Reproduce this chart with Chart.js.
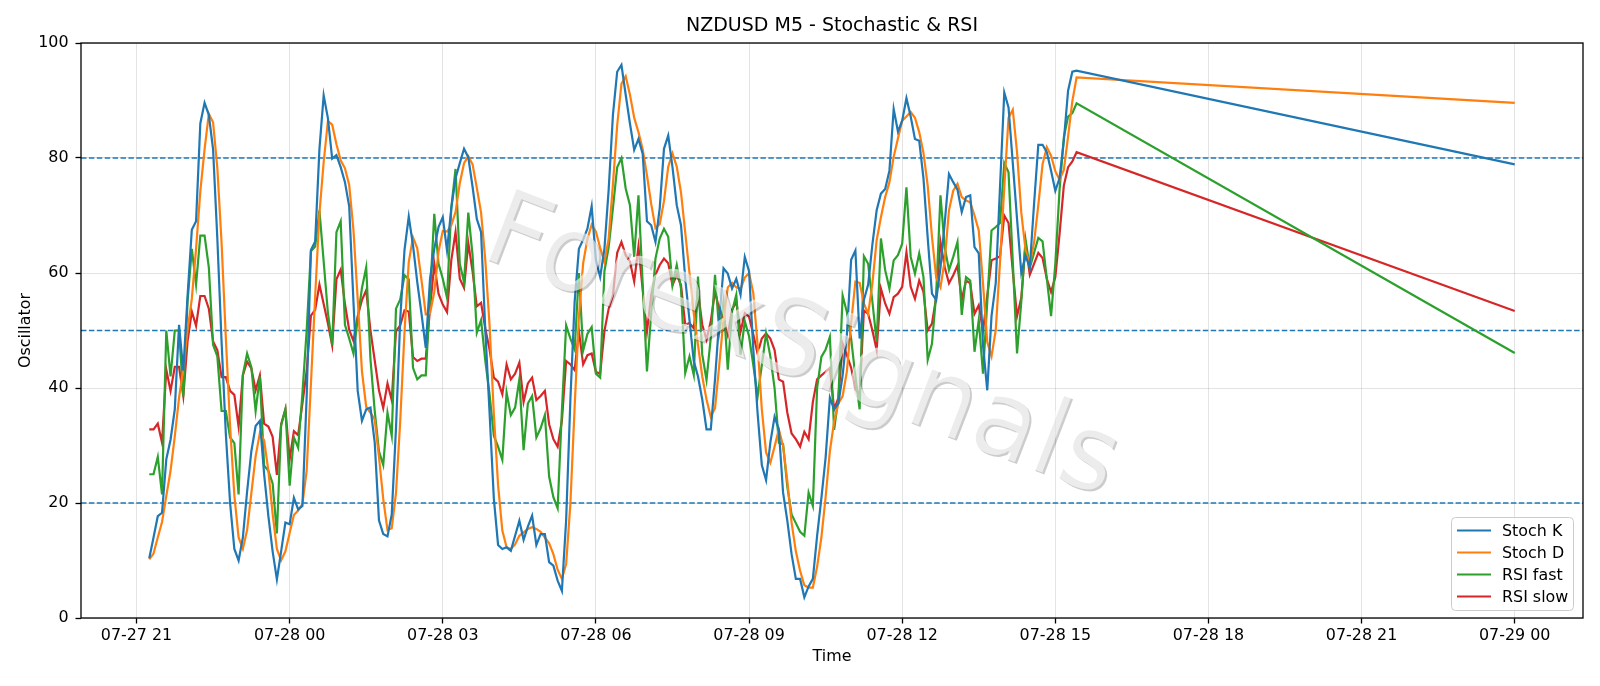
<!DOCTYPE html>
<html>
<head>
<meta charset="utf-8">
<title>NZDUSD M5 - Stochastic & RSI</title>
<script src="https://cdn.jsdelivr.net/npm/chart.js@4.4.1/dist/chart.umd.min.js"></script>
<style>
  html, body { margin: 0; padding: 0; background: #fff; }
  #wrap { width: 1600px; height: 686px; }
</style>
</head>
<body>
<div id="wrap"><canvas id="myChart" width="1600" height="686"></canvas></div>
<script>
// time axis: hours counted from 07-27 00:00
const firstBarHour = 21 + 15 / 60;   // 07-27 21:15
const barStepHours = 5 / 60;         // M5 bars
const barCount = 219;                // last bar 07-28 15:25
const finalHour = 48;                // 07-29 00:00
const tickHours = [21, 24, 27, 30, 33, 36, 39, 42, 45, 48];
const yTicks = [0, 20, 40, 60, 80, 100];
const levels = [20, 50, 80];

// one row = one hour of M5 bars, last row ends with the 07-29 00:00 point
const stochK = [
  10.4, 14, 17.7, 18.3, 27.6, 31, 36.3, 51, 43, 56, 67.5, 69,
  86, 89.6, 87.5, 81.5, 66, 48, 32, 20, 12, 10, 14, 22,
  29, 33.4, 34.3, 25, 17.7, 11.6, 6.7, 11.6, 16.6, 16.3, 20.9, 18.9,
  19.5, 38.5, 64, 65.5, 81.5, 90.9, 86.9, 79.9, 80.5, 78.4, 75.8, 71.6,
  55, 39.5, 34.3, 36.3, 36.6, 30.5, 17, 14.6, 14.2, 18, 33, 52,
  64, 69.8, 64.8, 58.4, 52.9, 47, 59, 64.2, 68, 69.7, 63.9, 71.3,
  76.5, 79.1, 81.6, 80.1, 75, 69.4, 67.1, 50, 35.7, 20.8, 12.7, 12,
  12.3, 11.7, 14.3, 16.9, 13.6, 15.9, 17.8, 12.7, 14.6, 14.6, 9.7, 9.1,
  6.5, 4.7, 17, 38, 55, 64.2, 65.8, 67.7, 71.6, 62.2, 59.3, 64.2,
  74.5, 87.5, 95, 96.2, 91, 86, 81.4, 83.3, 80.7, 69, 68.3, 65.4,
  71.3, 81.6, 83.9, 78.4, 71.8, 68.3, 59, 51.8, 44.7, 42, 38, 32.8,
  32.8, 41.5, 52, 60.8, 59.9, 57.3, 59, 56.2, 62.8, 60.3, 46.7, 35.7,
  26.6, 24, 30.5, 35, 32.8, 21.8, 16.9, 11.1, 6.8, 6.8, 3.6, 5.5,
  6.8, 14.3, 20.8, 27.9, 38.3, 36.3, 37.3, 42.2, 49.3, 62.3, 63.9, 48.6,
  55.3, 58, 65, 70.9, 73.8, 74.6, 77.8, 88.5, 84.6, 86.5, 90.4, 87.2,
  83.3, 83, 76.5, 66.1, 56.4, 55.3, 60.9, 68.7, 77.2, 75.8, 74.5, 70.6,
  73.2, 73.5, 64.5, 63.4, 47.4, 39.6, 52.5, 58.3, 75, 91.4, 88.8, 79.1,
  69.4, 60, 63, 61, 72, 82.3, 82.3, 81, 77.8, 74.3, 76.5, 83,
  91.7, 95, 95.2, 78.9
];
const stochD = [
  10.2, 11.2, 14, 16.7, 21.2, 25.6, 31.6, 38.3, 43.4, 50, 55.5, 64.2,
  74.2, 81.5, 87.7, 86.2, 78.3, 65.2, 48.7, 33.3, 21.3, 14, 12, 15.3,
  21.7, 28.1, 32.2, 30.9, 25.6, 18.1, 12, 10, 11.6, 14.8, 17.9, 18.7,
  19.8, 25.6, 40.7, 56, 70.3, 79.3, 86.4, 85.8, 82.4, 79.6, 78.2, 75.3,
  67.5, 55.4, 42.9, 36.7, 35.7, 34.5, 28, 20.7, 15.3, 15.6, 21.7, 34.3,
  49.7, 61.9, 66.2, 64.3, 58.7, 52.8, 53, 56.7, 63.7, 67.3, 67.2, 68.3,
  70.6, 75.6, 79.1, 80.3, 78.9, 74.8, 70.5, 62.2, 50.9, 35.5, 23.1, 15.2,
  12.3, 12, 12.8, 14.3, 14.9, 15.5, 15.8, 15.5, 15, 14, 13, 11.1,
  8.4, 6.8, 9.4, 19.9, 36.7, 52.4, 61.7, 65.9, 68.4, 67.2, 64.4, 61.9,
  66, 75.4, 85.7, 92.9, 94.2, 91, 87, 84.5, 81.5, 77, 72, 67.8,
  68.5, 72.5, 78.5, 80.8, 78.5, 74, 67, 60, 53, 47.5, 42, 38,
  35, 36.5, 44, 52, 57.5, 58.3, 57.5, 57.2, 59.2, 60, 56.5, 47.6,
  36.3, 28.8, 27, 29.8, 32.8, 29.9, 23.8, 16.6, 11.6, 8.2, 5.7, 5.3,
  5.3, 8.9, 14, 21, 29, 34.2, 37.3, 38.6, 42.9, 51.3, 58.5, 58.3,
  54.7, 52.9, 58.2, 65.7, 69.7, 73.2, 75.8, 80.2, 83.4, 86.5, 87.2, 88,
  87, 84.5, 80.9, 75.2, 66.3, 59.2, 57.5, 62.2, 70.9, 74.3, 75.5, 73.2,
  72.6, 72.3, 70, 67.4, 58.2, 48, 45.5, 50.1, 61.9, 74.9, 87, 88.4,
  81, 70.5, 64, 61.5, 65.3, 71.8, 78.9, 81.9, 80.4, 77.7, 76.2, 77.9,
  83.7, 89.9, 94, 89.6
];
const rsiFast = [
  25, 25, 28, 21.5, 50, 42, 50, 50, 38.5, 55, 64.2, 58,
  66.5, 66.5, 61, 47.5, 45.5, 36, 36, 31.4, 30.4, 21.5, 42.3, 46,
  43.6, 36, 42, 26.5, 25.6, 23.4, 14.7, 33.5, 36.3, 23, 31.4, 29.6,
  39, 50, 63.8, 64.6, 70.9, 62, 53, 47.5, 67.1, 69, 51, 48.6,
  46, 52, 57.4, 61, 45, 36, 29, 26.6, 35.7, 31.7, 53.8, 55.4,
  59.6, 58.9, 43.5, 41.5, 42.2, 42.2, 56, 70.3, 61.6, 59, 55.7, 71.3,
  78.1, 61.6, 58.4, 70.5, 63.1, 49.6, 51.8, 44.7, 38.9, 31.7, 29.8, 27.5,
  39.2, 35.3, 36.6, 41.5, 29.2, 37.3, 38.6, 31.4, 33, 35.3, 24.6, 21,
  19.1, 36, 50.9, 48.6, 46.7, 60, 46.5, 49.4, 50.6, 42.5, 41.8, 60.3,
  64.5, 71.3, 78.4, 80, 74.7, 71.8, 62.8, 73.5, 58, 42.9, 53, 62.5,
  66, 67.7, 66.3, 57.9, 61.4, 57.3, 42.6, 45.5, 42.3, 59.4, 45.8, 41.4,
  48.7, 59.7, 49.8, 55, 43.2, 53.3, 56.2, 45.8, 51.6, 49, 44, 38.5,
  44, 49.5, 45.5, 40, 30.5, 30.2, 22.8, 18, 16.5, 15, 14.3, 21.8,
  19.5, 40, 45.4, 46.7, 48.9, 32.7, 38.3, 56.1, 53.2, 48.6, 42, 36.3,
  62.9, 61.6, 55, 48, 66, 60.5, 57.3, 62.2, 63.1, 65.1, 74.9, 62.8,
  59.9, 63.4, 59.3, 44.9, 47.7, 56.4, 73.5, 64.5, 60.5, 62.8, 65.4, 52.7,
  59.3, 58.7, 46.3, 51.8, 42.5, 55, 67.4, 68, 68.7, 79.1, 77.5, 62,
  46, 55, 65.8, 60.9, 63.5, 66.1, 65.5, 59, 52.5, 61.6, 74.5, 83.6,
  87.2, 87.8, 89.5, 46.1
];
const rsiSlow = [
  32.8, 32.8, 33.8, 30.5, 43.2, 39.5, 43.7, 43.7, 38.6, 48.1, 53.3, 50.8,
  56, 56, 53.8, 48.1, 46.6, 41.9, 41.9, 39.5, 38.8, 33.3, 42.2, 44.6,
  43.4, 39.6, 42.2, 33.8, 33.3, 31.5, 24.9, 33.7, 36.3, 27.6, 32.5, 31.8,
  37.3, 43, 52.6, 53.6, 58, 54.6, 51.2, 47.4, 58.9, 60.6, 54.6, 50.1,
  48.2, 52.5, 55.3, 57, 50, 44.8, 39.6, 36.5, 40.8, 37.9, 49.9, 50.9,
  53.5, 53.3, 45.4, 44.7, 45.1, 45.1, 53.8, 61.6, 56.4, 54.5, 53.2, 62.2,
  67.1, 59, 57.4, 65.2, 60.3, 54.2, 54.8, 50.3, 46.7, 41.8, 41.1, 38.9,
  44.1, 41.5, 42.5, 44.4, 37.6, 40.8, 41.8, 37.9, 38.6, 39.5, 33.7, 31.1,
  29.8, 34.3, 44.7, 44.1, 43.1, 49.9, 44.1, 45.7, 46, 42.8, 42.5, 49.9,
  53.8, 56.1, 63.5, 65.4, 63.1, 62, 58.5, 64.6, 57, 49.8, 56.2, 59.7,
  61.4, 62.5, 61.7, 57.9, 59.7, 57.9, 51, 51.3, 50.4, 56.8, 51, 48.4,
  51.6, 56.8, 53.6, 52.1, 49.2, 53.6, 55, 49.8, 53, 52.4, 49.3, 46,
  48.6, 49.5, 48.6, 46.6, 41.5, 41.1, 35.7, 32.1, 31.1, 29.8, 32.4, 31.1,
  37.6, 41.5, 42.2, 42.8, 43.5, 36.3, 38.3, 47.7, 45.7, 43.5, 39.8, 38.9,
  53.5, 52.9, 50, 46.6, 57.3, 54.7, 52.9, 55.8, 56.4, 57.6, 63.6, 57.6,
  55.5, 58.7, 56.7, 50, 51.2, 55.8, 65.4, 61, 58.2, 59.6, 61.3, 55.3,
  58.7, 58.2, 52.9, 54.4, 50, 56, 62.2, 62.5, 62.9, 70, 68.7, 60.3,
  52.5, 55.7, 65.1, 59.7, 61.6, 63.5, 62.6, 59, 56.7, 59.3, 66.8, 75.2,
  78.4, 79.4, 81, 53.4
];

const fontFamily = '"DejaVu Sans", Arial, sans-serif';
const gridColor = 'rgba(176,176,176,0.35)';
const watermark = 'ForexSignals';

const barHours = [];
for (let i = 0; i < barCount; i++) {
  barHours.push(firstBarHour + i * barStepHours);
}
barHours.push(finalHour);

function toPoints(values) {
  return values.map((v, i) => ({ x: barHours[i], y: v }));
}

function tickLabel(h) {
  const day = 27 + Math.floor(h / 24);
  const hour = h % 24;
  return '07-' + day + ' ' + String(hour).padStart(2, '0');
}

// axis padding like matplotlib (5% each side)
const spanHours = finalHour - firstBarHour;
const xMin = firstBarHour - spanHours * 0.05;
const xMax = finalHour + spanHours * 0.05;

const extras = {
  id: 'extras',
  beforeDatasetsDraw(chart) {
    const { ctx, chartArea, scales } = chart;
    ctx.save();
    ctx.strokeStyle = '#1f77b4';
    ctx.lineWidth = 1.4;
    ctx.setLineDash([5.5, 2.4]);
    levels.forEach(v => {
      const y = scales.y.getPixelForValue(v);
      ctx.beginPath();
      ctx.moveTo(chartArea.left, y);
      ctx.lineTo(chartArea.right, y);
      ctx.stroke();
    });
    ctx.restore();
  },
  afterDatasetsDraw(chart) {
    // watermark: grey copy shifted down-right, pale copy on top
    const { ctx } = chart;
    ctx.save();
    ctx.font = '106px ' + fontFamily;
    ctx.textAlign = 'center';
    ctx.textBaseline = 'middle';
    ctx.save();
    ctx.translate(802, 352);
    ctx.rotate(21 * Math.PI / 180);
    ctx.fillStyle = 'rgba(0,0,0,0.2)';
    ctx.fillText(watermark, 0, 0);
    ctx.restore();
    ctx.translate(800, 350);
    ctx.rotate(21 * Math.PI / 180);
    ctx.fillStyle = 'rgba(255,255,255,0.62)';
    ctx.fillText(watermark, 0, 0);
    ctx.restore();
  },
  afterDraw(chart) {
    const { ctx, chartArea } = chart;
    const { left, right, top, bottom } = chartArea;
    ctx.save();
    // frame
    ctx.strokeStyle = '#000';
    ctx.lineWidth = 1.3;
    ctx.strokeRect(left, top, right - left, bottom - top);

    // texts
    ctx.fillStyle = '#000';
    ctx.textAlign = 'center';
    ctx.textBaseline = 'middle';
    ctx.font = '19px ' + fontFamily;
    ctx.fillText('NZDUSD M5 - Stochastic & RSI', (left + right) / 2, 26);
    ctx.font = '15.9px ' + fontFamily;
    ctx.fillText('Time', (left + right) / 2, 657);
    ctx.save();
    ctx.translate(26, (top + bottom) / 2);
    ctx.rotate(-Math.PI / 2);
    ctx.fillText('Oscillator', 0, 0);
    ctx.restore();

    // legend
    const bx = 1451.5, by = 517.5, bw = 122, bh = 93;
    ctx.beginPath();
    ctx.roundRect(bx, by, bw, bh, 4);
    ctx.fillStyle = 'rgba(255,255,255,0.8)';
    ctx.fill();
    ctx.strokeStyle = '#cccccc';
    ctx.lineWidth = 1;
    ctx.stroke();
    ctx.textAlign = 'left';
    ctx.font = '15.9px ' + fontFamily;
    chart.data.datasets.forEach((ds, k) => {
      const y = 530.5 + k * 22;
      ctx.strokeStyle = ds.borderColor;
      ctx.lineWidth = 2.2;
      ctx.beginPath();
      ctx.moveTo(1457, y);
      ctx.lineTo(1491, y);
      ctx.stroke();
      ctx.fillStyle = '#000';
      ctx.fillText(ds.label, 1502, y + 1);
    });
    ctx.restore();
  }
};

const config = {
  type: 'line',
  data: {
    datasets: [
      { label: 'Stoch K', data: toPoints(stochK), borderColor: '#1f77b4' },
      { label: 'Stoch D', data: toPoints(stochD), borderColor: '#ff7f0e' },
      { label: 'RSI fast', data: toPoints(rsiFast), borderColor: '#2ca02c' },
      { label: 'RSI slow', data: toPoints(rsiSlow), borderColor: '#d62728' }
    ]
  },
  options: {
    responsive: false,
    animation: false,
    devicePixelRatio: 1,
    layout: { padding: { top: 43, right: 17, left: 0, bottom: 0 } },
    plugins: {
      legend: { display: false },
      title: { display: false },
      tooltip: { enabled: false }
    },
    elements: {
      point: { radius: 0 },
      line: { borderWidth: 2.2, tension: 0, fill: false }
    },
    scales: {
      x: {
        type: 'linear',
        min: xMin,
        max: xMax,
        afterBuildTicks: s => { s.ticks = tickHours.map(v => ({ value: v })); },
        afterFit: s => { s.height = 68; },
        border: { display: false },
        grid: { color: gridColor, lineWidth: 1, tickLength: 5.5, tickColor: '#000', tickWidth: 1.3 },
        ticks: {
          color: '#000',
          font: { family: fontFamily, size: 15.9 },
          padding: 3,
          maxRotation: 0,
          autoSkip: false,
          callback: v => tickLabel(v)
        }
      },
      y: {
        min: 0,
        max: 100,
        afterBuildTicks: s => { s.ticks = yTicks.map(v => ({ value: v })); },
        afterFit: s => { s.width = 81; },
        border: { display: false },
        grid: { color: gridColor, lineWidth: 1, tickLength: 5.5, tickColor: '#000', tickWidth: 1.3 },
        ticks: {
          color: '#000',
          font: { family: fontFamily, size: 15.9 },
          padding: 7
        }
      }
    }
  },
  plugins: [extras]
};

const ctx = document.getElementById('myChart').getContext('2d');
new Chart(ctx, config);
</script>
</body>
</html>
